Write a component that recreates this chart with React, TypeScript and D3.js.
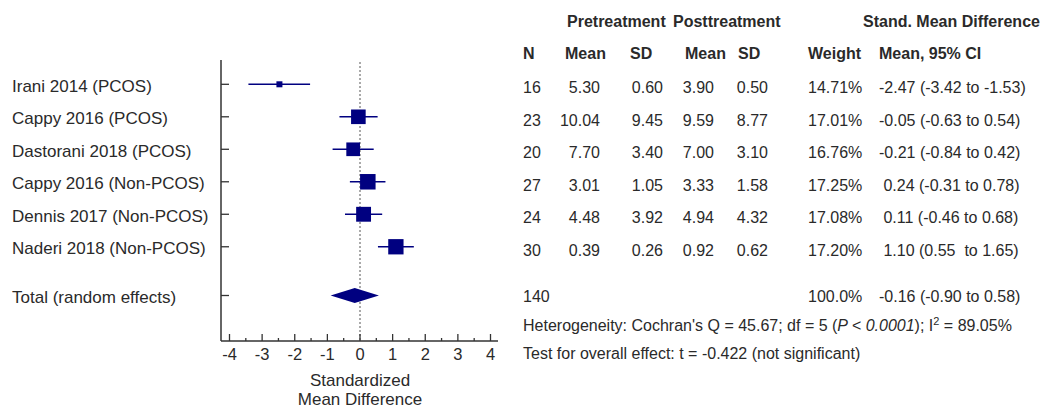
import React from "react";
import * as d3 from "d3";

const studies = [
  "Irani 2014 (PCOS)",
  "Cappy 2016 (PCOS)",
  "Dastorani 2018 (PCOS)",
  "Cappy 2016 (Non-PCOS)",
  "Dennis 2017 (Non-PCOS)",
  "Naderi 2018 (Non-PCOS)",
];
const nVals = [16, 23, 20, 27, 24, 30];
const preMean = [5.3, 10.04, 7.7, 3.01, 4.48, 0.39];
const preSD = [0.6, 9.45, 3.4, 1.05, 3.92, 0.26];
const postMean = [3.9, 9.59, 7.0, 3.33, 4.94, 0.92];
const postSD = [0.5, 8.77, 3.1, 1.58, 4.32, 0.62];
const weights = [14.71, 17.01, 16.76, 17.25, 17.08, 17.2];
const smd = [-2.47, -0.05, -0.21, 0.24, 0.11, 1.1];
const ciLow = [-3.42, -0.63, -0.84, -0.31, -0.46, 0.55];
const ciHigh = [-1.53, 0.54, 0.42, 0.78, 0.68, 1.65];

const totalLabel = "Total (random effects)";
const totalN = 140;
const totalWeight = 100.0;
const totalSmd = -0.16;
const totalLow = -0.9;
const totalHigh = 0.58;

const xTicks = [-4, -3, -2, -1, 0, 1, 2, 3, 4];
const xMinorTicks = [-3.5, -2.5, -1.5, -0.5, 0.5, 1.5, 2.5, 3.5];

const NAVY = "#000080";
const TEXT = "#2a2a2a";
const FONT = "'Liberation Sans', Arial, sans-serif";

function fmtMean(v: number) {
  return v < 0 ? v.toFixed(2) : " " + v.toFixed(2);
}
function fmtCI(m: number, lo: number, hi: number) {
  const loS = lo < 0 ? lo.toFixed(2) : lo.toFixed(2) + " ";
  return `${fmtMean(m)} (${loS} to ${hi.toFixed(2)})`;
}

export default function App() {
  const W = 1046;
  const H = 408;
  const x = d3.scaleLinear().domain([-4, 4]).range([229.5, 490.5]);
  const y = d3.scaleLinear().domain([0, 6.5]).range([84.3, 295.5]);
  const size = d3.scaleLinear().domain([14.71, 17.25]).range([6, 15.5]);
  const axisX = 221;
  const axisTop = 60;
  const axisY = 341;
  const axisRight = 498;

  const totalY = y(6.5);
  const dh = 7.5;
  const diamond = `M${x(totalLow)},${totalY} L${x(totalSmd)},${totalY - dh} L${x(totalHigh)},${totalY} L${x(totalSmd)},${totalY + dh} Z`;

  const colN = 523;
  const colPreMean = 600;
  const colPreSD = 663;
  const colPostMean = 714;
  const colPostSD = 768;
  const colWeight = 808;
  const colCI = 879;
  const tdy = 9;
  const tdyTotal = 6.5;

  return (
    <svg
      width={W}
      height={H}
      style={{ position: "absolute", left: 0, top: 0, background: "#fff" }}
      fontFamily={FONT}
    >
      <rect x={0} y={0} width={W} height={H} fill="#fff" />
      {/* axes */}
      <line x1={axisX} y1={axisTop} x2={axisX} y2={axisY} stroke="#333" strokeWidth={1.5} />
      <line x1={axisX} y1={axisY} x2={axisRight} y2={axisY} stroke="#333" strokeWidth={1.5} />
      <line x1={x(0)} y1={axisTop + 2} x2={x(0)} y2={axisY} stroke="#555" strokeWidth={1} strokeDasharray="2,2" />
      {xTicks.map((t) => (
        <g key={"t" + t}>
          <line x1={x(t)} y1={axisY} x2={x(t)} y2={axisY - 7} stroke="#333" strokeWidth={1.3} />
          <text x={x(t)} y={360} textAnchor="middle" fontSize={16.5} fill={TEXT}>
            {String(t)}
          </text>
        </g>
      ))}
      {xMinorTicks.map((t) => (
        <line key={"m" + t} x1={x(t)} y1={axisY} x2={x(t)} y2={axisY - 3} stroke="#333" strokeWidth={1.3} />
      ))}
      <text x={x(0)} y={386} textAnchor="middle" fontSize={17} fill={TEXT}>Standardized</text>
      <text x={x(0)} y={405} textAnchor="middle" fontSize={17} fill={TEXT}>Mean Difference</text>

      {/* study rows */}
      {studies.map((s, i) => {
        const yy = y(i);
        const sz = size(weights[i]);
        return (
          <g key={s}>
            <text x={12} y={yy + 7.5} fontSize={17} fill={TEXT}>{s}</text>
            <line x1={axisX} y1={yy} x2={axisX + 8} y2={yy} stroke="#333" strokeWidth={1.3} />
            <line x1={x(ciLow[i])} y1={yy} x2={x(ciHigh[i])} y2={yy} stroke={NAVY} strokeWidth={1.5} />
            <rect x={x(smd[i]) - sz / 2} y={yy - sz / 2} width={sz} height={sz} fill={NAVY} />
            <text x={colN} y={yy + tdy} fontSize={16} fill={TEXT}>{nVals[i]}</text>
            <text x={colPreMean} y={yy + tdy} fontSize={16} fill={TEXT} textAnchor="end">{preMean[i].toFixed(2)}</text>
            <text x={colPreSD} y={yy + tdy} fontSize={16} fill={TEXT} textAnchor="end">{preSD[i].toFixed(2)}</text>
            <text x={colPostMean} y={yy + tdy} fontSize={16} fill={TEXT} textAnchor="end">{postMean[i].toFixed(2)}</text>
            <text x={colPostSD} y={yy + tdy} fontSize={16} fill={TEXT} textAnchor="end">{postSD[i].toFixed(2)}</text>
            <text x={colWeight} y={yy + tdy} fontSize={16} fill={TEXT}>{weights[i].toFixed(2) + "%"}</text>
            <text x={colCI} y={yy + tdy} fontSize={16} fill={TEXT} style={{ whiteSpace: "pre" }}>
              {fmtCI(smd[i], ciLow[i], ciHigh[i])}
            </text>
          </g>
        );
      })}

      {/* total row */}
      <text x={12} y={totalY + 7.5} fontSize={17} fill={TEXT}>{totalLabel}</text>
      <line x1={axisX} y1={totalY} x2={axisX + 8} y2={totalY} stroke="#333" strokeWidth={1.3} />
      <path d={diamond} fill={NAVY} />
      <text x={colN} y={totalY + tdyTotal} fontSize={16} fill={TEXT}>{totalN}</text>
      <text x={colWeight} y={totalY + tdyTotal} fontSize={16} fill={TEXT}>{totalWeight.toFixed(1) + "%"}</text>
      <text x={colCI} y={totalY + tdyTotal} fontSize={16} fill={TEXT} style={{ whiteSpace: "pre" }}>
        {fmtCI(totalSmd, totalLow, totalHigh)}
      </text>

      {/* headers */}
      <text x={567} y={27} fontSize={16} fontWeight="bold" fill={TEXT}>Pretreatment</text>
      <text x={673} y={27} fontSize={16} fontWeight="bold" fill={TEXT}>Posttreatment</text>
      <text x={863} y={27} fontSize={16} fontWeight="bold" fill={TEXT}>Stand. Mean Difference</text>
      <text x={colN} y={59} fontSize={16} fontWeight="bold" fill={TEXT}>N</text>
      <text x={565} y={59} fontSize={16} fontWeight="bold" fill={TEXT}>Mean</text>
      <text x={630} y={59} fontSize={16} fontWeight="bold" fill={TEXT}>SD</text>
      <text x={685} y={59} fontSize={16} fontWeight="bold" fill={TEXT}>Mean</text>
      <text x={738} y={59} fontSize={16} fontWeight="bold" fill={TEXT}>SD</text>
      <text x={colWeight} y={59} fontSize={16} fontWeight="bold" fill={TEXT}>Weight</text>
      <text x={colCI} y={59} fontSize={16} fontWeight="bold" fill={TEXT}>Mean, 95% CI</text>

      {/* footer */}
      <text x={colN} y={331} fontSize={16} fill={TEXT}>
        Heterogeneity: Cochran's Q = 45.67; df = 5 (<tspan fontStyle="italic">P &lt; 0.0001</tspan>); I
        <tspan dy={-6} fontSize={11}>2</tspan>
        <tspan dy={6}> = 89.05%</tspan>
      </text>
      <text x={colN} y={359} fontSize={16} fill={TEXT}>
        Test for overall effect: t = -0.422 (not significant)
      </text>
    </svg>
  );
}
